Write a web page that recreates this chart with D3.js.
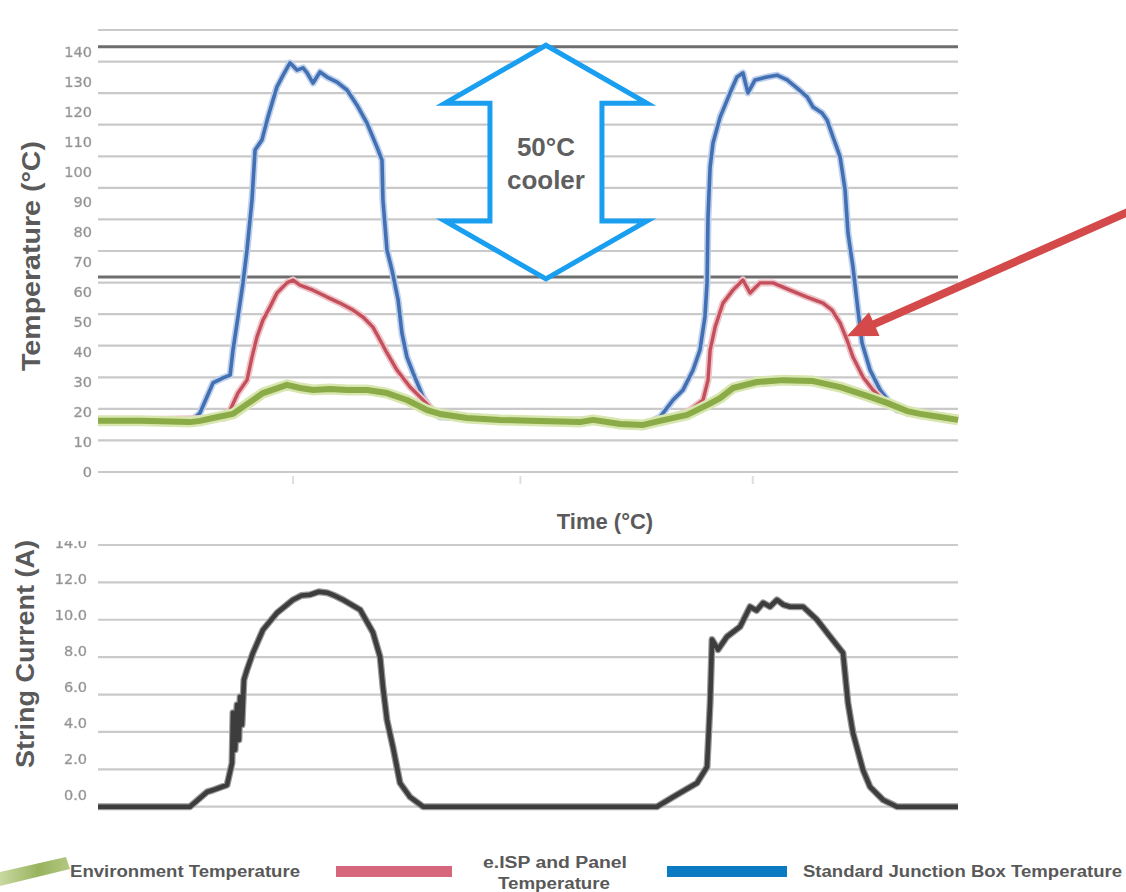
<!DOCTYPE html>
<html>
<head>
<meta charset="utf-8">
<script src="https://cdn.jsdelivr.net/npm/d3@7/dist/d3.min.js"></script>
<style>
  html, body { margin: 0; padding: 0; background: #ffffff; }
  svg { display: block; }
</style>
</head>
<body>
<svg id="chart" width="1126" height="892"></svg>
<script>
// ---------------- DATA ----------------
// time in hours from start of record
const envHours = [0, 2.19, 4.79, 5.31, 5.99, 7.03, 7.76, 8.59, 9.84, 10.52, 11.2, 12.08, 12.97, 14.01, 15.05, 16.09, 17.14, 17.81, 19.22, 20.94, 22.5, 25.1, 25.78, 27.19, 28.39, 29.27, 30.68, 31.72, 32.4, 33.07, 34.32, 35.68, 37.24, 38.65, 40.05, 41.09, 42.14, 42.81, 43.85, 44.79];
const envTemp  = [16.2, 16.2, 15.8, 16.2, 17.1, 18.4, 21.5, 25.0, 27.6, 26.6, 26.0, 26.3, 26.0, 26.0, 25.0, 22.8, 19.6, 18.4, 17.1, 16.5, 16.2, 15.8, 16.5, 15.2, 14.9, 16.2, 18.1, 21.2, 23.4, 26.6, 28.5, 29.1, 28.8, 26.9, 24.1, 21.9, 19.3, 18.4, 17.4, 16.5];

const eispHours = [0, 6.61, 6.88, 7.29, 7.76, 8.02, 8.28, 8.59, 8.96, 9.32, 9.84, 10.16, 10.52, 11.2, 11.93, 12.6, 13.28, 13.8, 14.32, 14.69, 15.05, 15.57, 16.25, 16.77, 17.45, 17.81, 19.22, 22.5, 25.78, 28.39, 29.95, 30.83, 31.51, 31.77, 31.88, 32.14, 32.55, 33.07, 33.59, 33.96, 34.48, 35.16, 36.04, 36.93, 37.76, 38.23, 38.65, 39.01, 39.32, 39.84, 40.36, 40.89, 41.41, 42.14, 44.79];
const eispTemp  = [16.2, 17.1, 19.6, 25.0, 29.1, 36.4, 42.8, 48.1, 52.3, 56.7, 59.9, 60.8, 59.2, 57.6, 55.4, 53.5, 51.3, 49.1, 45.9, 41.8, 37.7, 32.3, 26.9, 23.8, 19.6, 18.1, 17.1, 16.2, 16.5, 14.9, 17.4, 19.6, 22.8, 29.1, 38.6, 45.9, 53.5, 57.6, 60.8, 56.7, 59.9, 59.9, 57.6, 55.4, 53.5, 51.3, 47.2, 41.8, 36.4, 30.1, 26.0, 22.8, 20.6, 18.7, 16.5];

const jboxHours = [0, 4.79, 5.31, 5.99, 6.51, 6.88, 7.03, 7.29, 7.55, 7.76, 8.02, 8.18, 8.54, 8.85, 9.32, 9.64, 10.0, 10.36, 10.68, 10.89, 11.2, 11.56, 11.93, 12.45, 12.97, 13.49, 14.01, 14.53, 14.79, 14.84, 15.05, 15.31, 15.63, 15.83, 16.09, 16.41, 16.93, 17.45, 17.81, 19.22, 22.5, 25.78, 28.39, 29.27, 29.95, 30.47, 30.99, 31.35, 31.61, 31.72, 31.77, 31.88, 32.03, 32.4, 32.92, 33.28, 33.59, 33.85, 34.22, 34.84, 35.36, 35.89, 36.41, 36.93, 37.24, 37.71, 37.97, 38.28, 38.65, 38.91, 39.06, 39.32, 39.58, 39.79, 40.21, 40.73, 41.25, 41.61, 42.81, 44.79];
const jboxTemp  = [16.2, 15.8, 18.7, 28.2, 29.8, 30.7, 38.6, 49.1, 59.9, 70.3, 86.2, 102.0, 105.2, 112.4, 122.0, 125.7, 129.6, 127.3, 128.0, 126.4, 123.2, 126.7, 125.1, 123.5, 121.0, 116.2, 110.5, 102.9, 98.8, 86.2, 70.3, 64.0, 54.5, 44.0, 36.4, 31.4, 23.8, 18.7, 17.4, 17.1, 16.2, 16.5, 14.9, 17.4, 22.8, 26.0, 32.3, 38.6, 49.1, 59.9, 80.8, 96.6, 104.2, 112.4, 120.1, 125.1, 126.4, 120.1, 124.2, 125.1, 125.7, 124.2, 121.6, 118.8, 115.6, 113.7, 111.5, 106.1, 99.8, 89.3, 75.7, 64.9, 51.3, 40.9, 32.3, 26.0, 21.9, 19.6, 18.1, 16.5];

const curHours = [0, 4.79, 5.68, 5.99, 6.72, 6.98, 7.03, 7.14, 7.24, 7.34, 7.40, 7.5, 7.6, 7.76, 8.07, 8.59, 9.32, 10.16, 10.6, 11.04, 11.5, 11.93, 12.3, 12.76, 13.65, 14.32, 14.69, 14.84, 15.05, 15.36, 15.73, 16.25, 16.93, 17.66, 27.71, 29.11, 29.95, 31.2, 31.72, 31.88, 31.98, 32.29, 32.76, 33.44, 33.96, 34.3, 34.64, 35.0, 35.36, 35.7, 36.04, 36.72, 37.45, 38.13, 38.8, 39.06, 39.32, 39.84, 40.21, 40.89, 41.61, 44.79];
const curAmps  = [0, 0, 0.79, 0.89, 1.16, 2.34, 5.02, 3.04, 5.45, 3.57, 5.88, 4.38, 6.79, 7.32, 8.23, 9.46, 10.37, 11.07, 11.3, 11.34, 11.5, 11.45, 11.3, 11.07, 10.54, 9.32, 8.02, 6.41, 4.64, 3.2, 1.27, 0.52, 0, 0, 0, 0, 0.52, 1.27, 2.13, 5.55, 8.94, 8.4, 9.1, 9.63, 10.7, 10.5, 10.91, 10.7, 11.07, 10.8, 10.7, 10.7, 10.0, 9.1, 8.23, 5.55, 3.95, 1.97, 1.06, 0.36, 0, 0];

const tempTicks = [0, 10, 20, 30, 40, 50, 60, 70, 80, 90, 100, 110, 120, 130, 140];
const curTicks  = [0, 2, 4, 6, 8, 10, 12, 14];
const timeTicks = [10.16, 22, 34.1];
const refLines  = [134.7, 61.8];          // dark reference lines (peak levels)
const arrowHour = 23.33;                   // centre of "50°C cooler" arrow
const pointerTarget = [39.0, 43];          // red arrow tip (hour, °C)

const legendItems = ["Environment Temperature", ["e.ISP  and Panel", "Temperature"], "Standard Junction Box Temperature"];

(function () {
// ---------------- SCALES ----------------
const svg = d3.select("#chart");
const x   = d3.scaleLinear().domain([0, 44.79]).range([98, 958]);
const yT  = d3.scaleLinear().domain([0, 140]).range([472, 30]);
const yTL = d3.scaleLinear().domain([0, 140]).range([471.7, 51.7]);   // label positions
const yB  = d3.scaleLinear().domain([0, 14]).range([806.7, 545]);
const yBL = d3.scaleLinear().domain([0, 14]).range([795, 542.7]);

const defs = svg.append("defs");
defs.append("filter").attr("id", "soft").attr("x", "-5%").attr("y", "-5%").attr("width", "110%").attr("height", "110%")
  .append("feGaussianBlur").attr("stdDeviation", 0.7);
defs.append("filter").attr("id", "soft2").attr("x", "-5%").attr("y", "-5%").attr("width", "110%").attr("height", "110%")
  .append("feGaussianBlur").attr("stdDeviation", 0.5);
defs.append("clipPath").attr("id", "clipB").append("rect")
  .attr("x", 0).attr("y", 541).attr("width", 98).attr("height", 300);
const lg = defs.append("linearGradient").attr("id", "greenSw").attr("x1", "0").attr("y1", "0").attr("x2", "1").attr("y2", "0");
lg.append("stop").attr("offset", "0").attr("stop-color", "#c9d9a0");
lg.append("stop").attr("offset", "0.55").attr("stop-color", "#98b35e");
lg.append("stop").attr("offset", "1").attr("stop-color", "#b3c881");

// ---------------- TOP CHART ----------------
const topG = svg.append("g");
const gridT = topG.append("g").attr("filter", "url(#soft2)");
gridT.selectAll("line").data(tempTicks).join("line")
  .attr("x1", x(0)).attr("x2", x(44.79))
  .attr("y1", d => yT(d)).attr("y2", d => yT(d))
  .attr("stroke", "#c9c9c9").attr("stroke-width", 2.2);

// faint x ticks
topG.append("g").selectAll("line").data(timeTicks).join("line")
  .attr("x1", d => x(d)).attr("x2", d => x(d))
  .attr("y1", yT(0) + 4).attr("y2", yT(0) + 12)
  .attr("stroke", "#dedede").attr("stroke-width", 2);

// y tick labels
const axT = topG.append("g").attr("transform", "translate(92,0)").attr("filter", "url(#soft2)")
  .call(d3.axisLeft(yTL).tickValues(tempTicks).tickSize(0).tickPadding(0).tickFormat(d3.format("d")));
axT.select(".domain").remove();
axT.selectAll("text").attr("font-family", "DejaVu Sans").attr("font-size", 14.5).attr("fill", "#8a8a8a")
  .attr("stroke", "#b0b0b0").attr("stroke-width", 0.5);

// reference lines
topG.append("g").attr("filter", "url(#soft2)").selectAll("line").data(refLines).join("line")
  .attr("x1", x(0)).attr("x2", x(44.79))
  .attr("y1", d => yT(d)).attr("y2", d => yT(d))
  .attr("stroke", "#6e6e6e").attr("stroke-width", 3);

const lineT = d3.line().x(d => x(d[0])).y(d => yT(d[1]));
const series = [
  { h: jboxHours, v: jboxTemp, halo: "#bfd1ec", core: "#4270b2", hw: 7, cw: 3.6 },
  { h: eispHours, v: eispTemp, halo: "#efc4c9", core: "#c4505c", hw: 7, cw: 3.4 },
  { h: envHours,  v: envTemp,  halo: "#d8e6b0", core: "#8aab46", hw: 11, cw: 6 }
];
const linesG = topG.append("g").attr("filter", "url(#soft)");
series.forEach(s => {
  const pts = d3.zip(s.h, s.v);
  linesG.append("path").datum(pts).attr("d", lineT).attr("fill", "none")
    .attr("stroke", s.halo).attr("stroke-width", s.hw).attr("stroke-linejoin", "round");
  linesG.append("path").datum(pts).attr("d", lineT).attr("fill", "none")
    .attr("stroke", s.core).attr("stroke-width", s.cw).attr("stroke-linejoin", "round");
});

// double-headed "50°C cooler" arrow
const cx = x(arrowHour), yTop = yT(refLines[0]) - 1.5, yBot = yT(refLines[1]) + 2;
const headH = 58, headW = 101, shaftW = 56;
const arrowPts = [
  [cx, yTop], [cx + headW, yTop + headH], [cx + shaftW, yTop + headH],
  [cx + shaftW, yBot - headH], [cx + headW, yBot - headH], [cx, yBot],
  [cx - headW, yBot - headH], [cx - shaftW, yBot - headH], [cx - shaftW, yTop + headH],
  [cx - headW, yTop + headH]
];
topG.append("polygon").attr("points", arrowPts.map(p => p.join(",")).join(" "))
  .attr("fill", "#ffffff").attr("stroke", "#1a9ff0").attr("stroke-width", 5).attr("stroke-linejoin", "miter");
topG.append("text").attr("x", cx).attr("y", 156).attr("text-anchor", "middle")
  .attr("font-family", "Liberation Sans, Arial, sans-serif").attr("font-weight", "bold")
  .attr("font-size", 26).attr("fill", "#5f5f5f").text("50°C");
topG.append("text").attr("x", cx).attr("y", 189).attr("text-anchor", "middle")
  .attr("font-family", "Liberation Sans, Arial, sans-serif").attr("font-weight", "bold")
  .attr("font-size", 26).attr("fill", "#5f5f5f").text("cooler");

// red pointer arrow
const tip = [x(pointerTarget[0]), yT(pointerTarget[1])];
const tail = [1130, 211];
const dx = tail[0] - tip[0], dy = tail[1] - tip[1], len = Math.hypot(dx, dy);
const ux = dx / len, uy = dy / len, px = -uy, py = ux;
const hl = 30, hw = 13;
const base = [tip[0] + ux * hl, tip[1] + uy * hl];
svg.append("line").attr("x1", tail[0]).attr("y1", tail[1]).attr("x2", base[0] - ux * 2).attr("y2", base[1] - uy * 2)
  .attr("stroke", "#d44a4a").attr("stroke-width", 8);
svg.append("polygon").attr("points", [tip, [base[0] + px * hw, base[1] + py * hw], [base[0] - px * hw, base[1] - py * hw]].map(p => p.join(",")).join(" "))
  .attr("fill", "#d44a4a");

// axis titles
svg.append("text").attr("transform", "translate(40,256) rotate(-90)").attr("text-anchor", "middle")
  .attr("font-family", "Liberation Sans, Arial, sans-serif").attr("font-weight", "bold")
  .attr("font-size", 25).attr("fill", "#5a5a5a").attr("textLength", 230).attr("lengthAdjust", "spacingAndGlyphs")
  .text("Temperature (°C)");
svg.append("text").attr("x", 605).attr("y", 529).attr("text-anchor", "middle")
  .attr("font-family", "Liberation Sans, Arial, sans-serif").attr("font-weight", "bold")
  .attr("font-size", 22).attr("fill", "#5a5a5a").text("Time (°C)");
svg.append("text").attr("transform", "translate(34,654) rotate(-90)").attr("text-anchor", "middle")
  .attr("font-family", "Liberation Sans, Arial, sans-serif").attr("font-weight", "bold")
  .attr("font-size", 25).attr("fill", "#5a5a5a").attr("textLength", 228).attr("lengthAdjust", "spacingAndGlyphs")
  .text("String Current (A)");

// ---------------- BOTTOM CHART ----------------
const botG = svg.append("g");
botG.append("g").attr("filter", "url(#soft2)").selectAll("line").data(curTicks).join("line")
  .attr("x1", x(0)).attr("x2", x(44.79))
  .attr("y1", d => yB(d)).attr("y2", d => yB(d))
  .attr("stroke", "#cacaca").attr("stroke-width", 2.2);
const axB = botG.append("g").attr("clip-path", "url(#clipB)").append("g")
  .attr("transform", "translate(87,0)").attr("filter", "url(#soft2)")
  .call(d3.axisLeft(yBL).tickValues(curTicks).tickSize(0).tickPadding(0).tickFormat(d3.format(".1f")));
axB.select(".domain").remove();
axB.selectAll("text").attr("font-family", "DejaVu Sans").attr("font-size", 14.5).attr("fill", "#8a8a8a")
  .attr("stroke", "#b0b0b0").attr("stroke-width", 0.5);

const lineB = d3.line().x(d => x(d[0])).y(d => yB(d[1]));
const cpts = d3.zip(curHours, curAmps);
const cg = botG.append("g").attr("filter", "url(#soft)");
cg.append("path").datum(cpts).attr("d", lineB).attr("fill", "none")
  .attr("stroke", "#9a9a9a").attr("stroke-width", 7).attr("stroke-linejoin", "round");
cg.append("path").datum(cpts).attr("d", lineB).attr("fill", "none")
  .attr("stroke", "#3e3e3e").attr("stroke-width", 4.6).attr("stroke-linejoin", "round");

// ---------------- LEGEND ----------------
const leg = svg.append("g").attr("font-family", "Liberation Sans, Arial, sans-serif")
  .attr("font-weight", "bold").attr("fill", "#595959");
leg.append("polygon").attr("points", "0,872 66,857 70,869 0,886").attr("fill", "url(#greenSw)");
leg.append("text").attr("x", 70).attr("y", 877).attr("font-size", 17)
  .attr("textLength", 230).attr("lengthAdjust", "spacingAndGlyphs").text(legendItems[0]);
leg.append("rect").attr("x", 336).attr("y", 866).attr("width", 116).attr("height", 11).attr("fill", "#d6667c");
leg.append("text").attr("x", 555).attr("y", 868).attr("text-anchor", "middle").attr("font-size", 16)
  .attr("textLength", 144).attr("lengthAdjust", "spacingAndGlyphs").text(legendItems[1][0]);
leg.append("text").attr("x", 554).attr("y", 889).attr("text-anchor", "middle").attr("font-size", 16)
  .attr("textLength", 112).attr("lengthAdjust", "spacingAndGlyphs").text(legendItems[1][1]);
leg.append("rect").attr("x", 667).attr("y", 866).attr("width", 120).attr("height", 11).attr("fill", "#0a7bc2");
leg.append("text").attr("x", 803).attr("y", 877).attr("font-size", 17)
  .attr("textLength", 319).attr("lengthAdjust", "spacingAndGlyphs").text(legendItems[2]);
})();
</script>
</body>
</html>
